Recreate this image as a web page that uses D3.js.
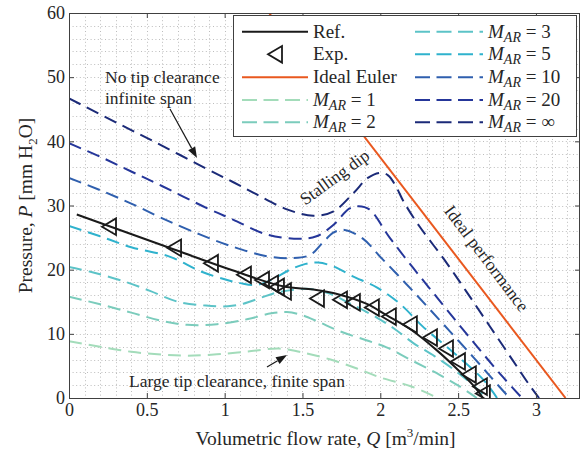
<!DOCTYPE html>
<html>
<head>
<meta charset="utf-8">
<script src="https://cdn.jsdelivr.net/npm/d3@7"></script>
<style>
  body { margin: 0; background: #fff; }
  svg text { font-family: "Liberation Serif", "Times New Roman", serif; fill: #262626; }
</style>
</head>
<body>
<svg id="chart" width="583" height="454"></svg>
<script>
// values, [Q (m3/min), P (mm H2O)]
var refLine = [[0.05,28.6],[0.68,23.1],[1.05,19.9],[1.375,17.4],[1.57,16.9],[1.74,16.1],[1.91,14.7],[2.04,12.9],[2.2,10.6],[2.36,7.5],[2.49,4.6],[2.6,1.9],[2.66,0]];
var expPoints = [[0.257,26.7],[0.675,23.4],[0.912,21.0],[1.124,19.2],[1.24,18.4],[1.298,17.8],[1.336,17.3],[1.381,16.6],[1.593,15.5],[1.741,15.3],[1.824,14.9],[1.946,14.1],[2.055,12.7],[2.19,11.45],[2.319,9.42],[2.422,7.71],[2.499,5.69],[2.569,3.66],[2.64,1.79],[2.659,0.7]];
var idealEuler = [[1.285,60],[3.19,0]];

var mar1 = [[0,8.85],[0.2,8.0],[0.4,7.2],[0.6,6.75],[0.76,6.6],[0.95,6.8],[1.15,7.25],[1.35,7.7],[1.5,7.1],[1.68,6.0],[1.85,4.6],[2.0,3.2],[2.2,1.8],[2.37,0]];
var mar2 = [[0,15.8],[0.2,14.6],[0.4,13.3],[0.6,12.0],[0.76,11.4],[0.95,11.5],[1.15,12.3],[1.3,13.2],[1.4,13.4],[1.5,12.9],[1.6,11.9],[1.74,10.4],[1.91,9.0],[2.04,7.9],[2.19,6.0],[2.36,3.9],[2.51,1.8],[2.62,0]];
var mar3 = [[0,20.4],[0.15,19.6],[0.35,18.2],[0.52,16.7],[0.7,15.0],[0.88,14.4],[1.02,14.3],[1.12,14.7],[1.23,15.6],[1.33,16.4],[1.45,16.9],[1.55,17.0],[1.67,16.3],[1.8,14.8],[1.98,12.5],[2.09,10.8],[2.21,8.6],[2.35,6.5],[2.49,4.1],[2.6,1.9],[2.68,0]];
var mar5 = [[0,26.8],[0.2,25.2],[0.4,23.5],[0.65,22.0],[0.84,19.8],[1.0,18.5],[1.1,17.9],[1.2,17.6],[1.3,18.4],[1.42,20.0],[1.52,20.9],[1.6,21.1],[1.7,20.5],[1.82,19.0],[1.98,17.2],[2.13,14.6],[2.27,11.2],[2.46,7.3],[2.66,2.9],[2.75,0]];
var mar10 = [[0,34.3],[0.2,32.4],[0.4,30.3],[0.6,28.0],[0.84,25.5],[1.05,23.6],[1.27,22.1],[1.44,21.8],[1.55,22.3],[1.63,24.2],[1.7,25.8],[1.77,26.2],[1.89,24.8],[2.0,22.0],[2.15,18.2],[2.3,14.3],[2.45,10.3],[2.6,6.3],[2.72,3.0],[2.83,0]];
var mar20 = [[0,39.7],[0.2,37.6],[0.4,35.3],[0.6,33.0],[0.885,29.6],[1.054,27.8],[1.27,25.5],[1.48,24.8],[1.59,25.2],[1.7,27.0],[1.8,29.5],[1.86,29.9],[1.93,29.4],[2.06,25.0],[2.21,20.3],[2.36,15.8],[2.51,11.3],[2.66,6.9],[2.79,3.2],[2.91,0]];
var marInf = [[0,46.7],[0.33,42.6],[0.6,39.3],[0.885,35.7],[1.05,33.7],[1.2,31.8],[1.4,29.4],[1.57,28.4],[1.7,29.1],[1.83,32.0],[1.92,34.3],[2.0,35.1],[2.05,34.7],[2.1,33.0],[2.15,30.6],[2.25,26.8],[2.41,21.6],[2.55,16.7],[2.7,11.3],[2.85,5.9],[2.95,2.3],[3.02,0]];

var xTicks = [0, 0.5, 1, 1.5, 2, 2.5, 3];
var yTicks = [0, 10, 20, 30, 40, 50, 60];

var marSeries = [
  {label: "1", data: mar1, color: "#a3dcba"},
  {label: "2", data: mar2, color: "#7bccbc"},
  {label: "3", data: mar3, color: "#5cc3c7"},
  {label: "5", data: mar5, color: "#2fb2cd"},
  {label: "10", data: mar10, color: "#2f5fae"},
  {label: "20", data: mar20, color: "#25369a"},
  {label: "\u221E", data: marInf, color: "#1b2a78"}
];

(function () {
  var pLeft = 69, pRight = 580, pTop = 13, pBottom = 398;
  var serif = "Liberation Serif, Times New Roman, serif";

  var svg = d3.select("#chart").attr("font-family", serif);

  var x = d3.scaleLinear().domain([0, 3.283]).range([pLeft, pRight]);
  var y = d3.scaleLinear().domain([0, 60]).range([pBottom, pTop]);

  svg.append("defs").append("clipPath").attr("id", "plotclip")
    .append("rect").attr("x", pLeft).attr("y", pTop).attr("width", pRight - pLeft).attr("height", pBottom - pTop);

  // dotted minor grid
  var grid = svg.append("g").attr("stroke", "#bdbdbd").attr("stroke-width", 1).attr("stroke-dasharray", "1,2.6");
  d3.range(1, 33).forEach(function (i) {
    var gx = Math.round(x(i / 10)) + 0.5;
    grid.append("line").attr("x1", gx).attr("x2", gx).attr("y1", pTop).attr("y2", pBottom);
  });
  d3.range(1, 30).forEach(function (i) {
    var gy = Math.round(y(i * 2)) + 0.5;
    grid.append("line").attr("x1", pLeft).attr("x2", pRight).attr("y1", gy).attr("y2", gy);
  });

  var plot = svg.append("g").attr("clip-path", "url(#plotclip)");

  var smooth = d3.line().x(function (d) { return x(d[0]); }).y(function (d) { return y(d[1]); })
    .curve(d3.curveCatmullRom.alpha(0.5));
  var straight = d3.line().x(function (d) { return x(d[0]); }).y(function (d) { return y(d[1]); });

  marSeries.forEach(function (s) {
    plot.append("path").attr("d", smooth(s.data))
      .attr("fill", "none").attr("stroke", s.color).attr("stroke-width", 2)
      .attr("stroke-dasharray", "13,7");
  });

  plot.append("path").attr("d", straight(idealEuler))
    .attr("fill", "none").attr("stroke", "#e9581f").attr("stroke-width", 2);

  plot.append("path").attr("d", smooth(refLine))
    .attr("fill", "none").attr("stroke", "#1a1a1a").attr("stroke-width", 2);

  var tri = "M-7,0L7,-8.3L7,8.3Z";
  plot.selectAll(".exp").data(expPoints).enter()
    .append("path").attr("class", "exp").attr("d", tri)
    .attr("transform", function (d) { return "translate(" + x(d[0]) + "," + y(d[1]) + ")"; })
    .attr("fill", "none").attr("stroke", "#1a1a1a").attr("stroke-width", 1.8);

  // axes, ticks pointing inward on all four sides
  function styleAxis(g) {
    g.attr("font-family", serif).attr("font-size", 18);
    g.select(".domain").remove();
    g.selectAll(".tick line").attr("stroke", "#404040");
    g.selectAll(".tick text").attr("fill", "#262626");
  }
  svg.append("g").attr("transform", "translate(0," + pBottom + ")")
    .call(d3.axisBottom(x).tickValues(xTicks).tickSize(-5).tickPadding(5).tickFormat(d3.format("")))
    .call(styleAxis);
  svg.append("g").attr("transform", "translate(0," + pTop + ")")
    .call(d3.axisTop(x).tickValues(xTicks).tickSize(-5).tickFormat(""))
    .call(styleAxis);
  svg.append("g").attr("transform", "translate(" + pLeft + ",0)")
    .call(d3.axisLeft(y).tickValues(yTicks).tickSize(-5).tickPadding(4))
    .call(styleAxis);
  svg.append("g").attr("transform", "translate(" + pRight + ",0)")
    .call(d3.axisRight(y).tickValues(yTicks).tickSize(-5).tickFormat(""))
    .call(styleAxis);

  svg.append("rect").attr("x", pLeft + 0.5).attr("y", pTop + 0.5)
    .attr("width", pRight - pLeft - 1).attr("height", pBottom - pTop)
    .attr("fill", "none").attr("stroke", "#404040").attr("stroke-width", 1);

  // axis labels
  var xl = svg.append("text").attr("x", (pLeft + pRight) / 2 + 1).attr("y", 445)
    .attr("text-anchor", "middle").attr("font-size", 19.5);
  xl.append("tspan").text("Volumetric flow rate, ");
  xl.append("tspan").attr("font-style", "italic").text("Q");
  xl.append("tspan").text(" [m");
  xl.append("tspan").attr("font-size", 13).attr("dy", -8).text("3");
  xl.append("tspan").attr("dy", 8).text("/min]");

  var yl = svg.append("text").attr("transform", "translate(32," + (pTop + pBottom) / 2 + ") rotate(-90)")
    .attr("text-anchor", "middle").attr("font-size", 19.5);
  yl.append("tspan").text("Pressure, ");
  yl.append("tspan").attr("font-style", "italic").text("P");
  yl.append("tspan").text(" [mm H");
  yl.append("tspan").attr("font-size", 13).attr("dy", 5).text("2");
  yl.append("tspan").attr("dy", -5).text("O]");

  // annotations
  var ann = svg.append("g").attr("font-size", 17.5);
  ann.append("text").attr("x", 105).attr("y", 83).text("No tip clearance");
  ann.append("text").attr("x", 105).attr("y", 104).text("infinite span");
  ann.append("text").attr("x", 129).attr("y", 387).text("Large tip clearance, finite span");
  ann.append("text").attr("transform", "translate(338,182) rotate(-36)").attr("text-anchor", "middle").text("Stalling dip");
  ann.append("text").attr("transform", "translate(482,262) rotate(53)").attr("text-anchor", "middle").text("Ideal performance");

  function arrow(x1, y1, x2, y2) {
    var a = Math.atan2(y2 - y1, x2 - x1), len = 11, w = 4;
    var bx = x2 - len * Math.cos(a), by = y2 - len * Math.sin(a);
    svg.append("line").attr("x1", x1).attr("y1", y1).attr("x2", bx).attr("y2", by)
      .attr("stroke", "#1a1a1a").attr("stroke-width", 1.2);
    svg.append("path")
      .attr("d", "M" + x2 + "," + y2 +
        "L" + (bx + w * Math.sin(a)) + "," + (by - w * Math.cos(a)) +
        "L" + (bx - w * Math.sin(a)) + "," + (by + w * Math.cos(a)) + "Z")
      .attr("fill", "#1a1a1a");
  }
  arrow(170, 109, 197, 158);
  arrow(267, 367, 287, 355);

  // legend
  var lg = svg.append("g");
  lg.append("rect").attr("x", 233.5).attr("y", 15.5).attr("width", 343).attr("height", 121)
    .attr("fill", "#fff").attr("stroke", "#404040").attr("stroke-width", 1);

  var rowY = [31.7, 54.3, 77.3, 100, 122.3];
  var col1 = [242, 308, 313], col2 = [415, 483, 488];

  function legendText(cx, cy) {
    return lg.append("text").attr("x", cx).attr("y", cy + 6).attr("font-size", 19);
  }
  lg.append("line").attr("x1", col1[0]).attr("x2", col1[1]).attr("y1", rowY[0]).attr("y2", rowY[0])
    .attr("stroke", "#1a1a1a").attr("stroke-width", 2);
  legendText(col1[2], rowY[0]).text("Ref.");
  lg.append("path").attr("d", tri).attr("transform", "translate(" + (col1[0] + col1[1]) / 2 + "," + rowY[1] + ")")
    .attr("fill", "none").attr("stroke", "#1a1a1a").attr("stroke-width", 1.8);
  legendText(col1[2], rowY[1]).text("Exp.");
  lg.append("line").attr("x1", col1[0]).attr("x2", col1[1]).attr("y1", rowY[2]).attr("y2", rowY[2])
    .attr("stroke", "#e9581f").attr("stroke-width", 2);
  legendText(col1[2], rowY[2]).text("Ideal Euler");

  marSeries.forEach(function (s, i) {
    var slot = i + 3;
    var col = slot < 5 ? col1 : col2;
    var ry = rowY[slot % 5];
    lg.append("line").attr("x1", col[0]).attr("x2", col[1]).attr("y1", ry).attr("y2", ry)
      .attr("stroke", s.color).attr("stroke-width", 2).attr("stroke-dasharray", "15,6.5");
    var t = legendText(col[2], ry);
    t.append("tspan").attr("font-style", "italic").text("M");
    t.append("tspan").attr("font-style", "italic").attr("font-size", 14).attr("dy", 4).text("AR");
    t.append("tspan").attr("dy", -4).text(" = " + s.label);
  });
})();
</script>
</body>
</html>
